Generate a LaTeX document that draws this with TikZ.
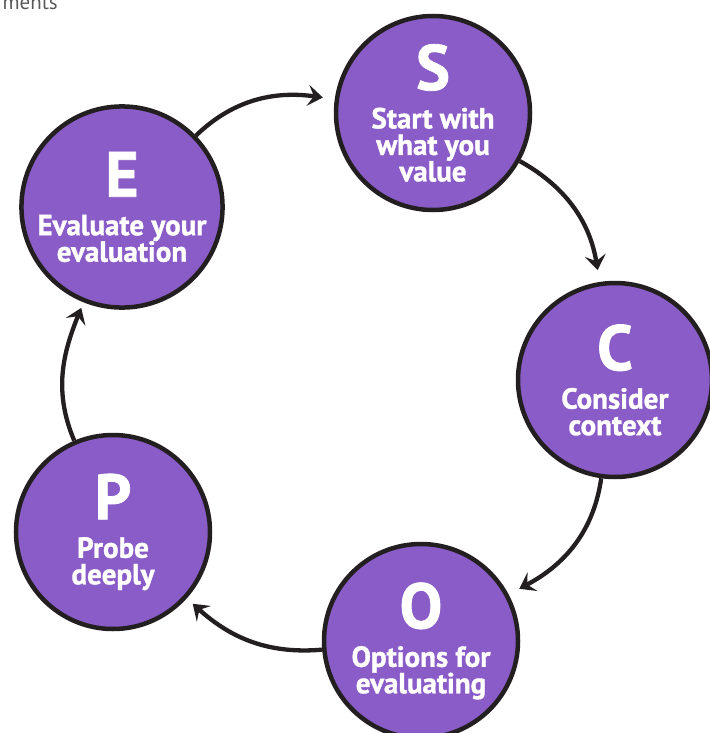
\documentclass[tikz,border=0pt]{standalone}
\usepackage{fontspec}
\setmainfont{PT Sans}[BoldFeatures={FakeBold=1.2}]
\usetikzlibrary{positioning, arrows.meta}
\definecolor{stagefill}{RGB}{138,92,199}
\definecolor{ink}{RGB}{35,31,32}
\newcommand{\stagefont}{\bfseries\fontsize{29}{26.5}\selectfont\lineskiplimit=-20pt\relax}
\newcommand{\stageletter}[1]{{\fontsize{64}{64}\selectfont #1}\\[12pt]}
\tikzset{
	stage/.style = {circle, draw=ink, line width=4.5pt, fill=stagefill,
		minimum size=194pt, inner sep=0pt, align=center, text=white,
		font=\stagefont},
	cycle arrow/.style = {draw=ink, line width=4.3pt,
		-{Stealth[length=15pt, width=21pt, inset=6pt]}, shorten >=12pt}
}

\begin{document}
\begin{tikzpicture}[x=1pt, y=1pt]
	\useasboundingbox (0,0) rectangle (709,-733);
	\node[anchor=base east, text=black!65, inner sep=0pt,
		font=\fontsize{21}{21}\selectfont] (caption) at (58,-10) {ments};

	\node[stage] (start) at (433,-113) {\stageletter{S}Start with\\what you\\value};
	\node[stage] (context) at (615,-380) {\stageletter{C}Consider\\context};
	\node[stage] (options) at (421,-641) {\stageletter{O}Options for\\evaluating};
	\node[stage] (probe) at (113,-532) {\stageletter{P}Probe\\deeply};
	\node[stage] (evaluate) at (122,-207) {\stageletter{E}Evaluate your\\evaluation};

	\draw[cycle arrow] (evaluate) to[out=44, in=172] (start);
	\draw[cycle arrow] (start) to[out=-29, in=99] (context);
	\draw[cycle arrow] (context) to[out=-98, in=28] (options);
	\draw[cycle arrow, shorten >=8pt] (options) to[out=185, in=-42] (probe);
	\draw[cycle arrow, shorten >=6pt] (probe) to[out=113, in=-112] (evaluate);
\end{tikzpicture}
\end{document}
